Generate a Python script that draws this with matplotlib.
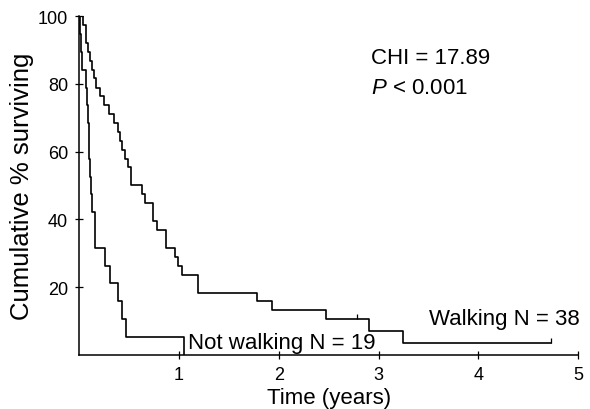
import matplotlib
matplotlib.use('Agg')
import matplotlib.pyplot as plt

plt.rcParams['font.family'] = ['Liberation Sans', 'DejaVu Sans']
plt.rcParams['mathtext.fontset'] = 'custom'
plt.rcParams['mathtext.it'] = 'Liberation Sans:italic'
plt.rcParams['mathtext.rm'] = 'Liberation Sans'

# survival curves (time in years, % surviving)
walk_t = [0, 0.04, 0.065, 0.085, 0.105, 0.13, 0.15, 0.17, 0.21, 0.25, 0.30,
          0.35, 0.39, 0.41, 0.43, 0.46, 0.49, 0.52, 0.634, 0.658, 0.745, 0.78,
          0.87, 0.96, 0.995, 1.027, 1.19, 1.78, 1.93, 2.47, 2.90, 3.24, 4.73]
walk_s = [100, 97.4, 92.1, 89.5, 86.8, 84.2, 81.6, 78.9, 76.3, 73.7, 71.1,
          68.4, 65.8, 63.2, 60.5, 57.9, 55.3, 50.0, 47.4, 44.7, 39.5, 36.8,
          31.6, 28.9, 26.3, 23.7, 18.4, 15.8, 13.2, 10.5, 7.0, 3.5, 3.5]
walk_cens_t = [2.78, 4.73]
walk_cens_s = [10.5, 3.5]

notwalk_t = [0, 0.005, 0.015, 0.025, 0.07, 0.08, 0.09, 0.095, 0.10, 0.11,
             0.12, 0.13, 0.16, 0.26, 0.31, 0.39, 0.43, 0.47, 1.05]
notwalk_s = [100, 94.7, 89.5, 84.2, 78.9, 73.7, 68.4, 63.2, 57.9, 52.6,
             47.4, 42.1, 31.6, 26.3, 21.1, 15.8, 10.5, 5.3, 0]

fig = plt.figure(figsize=(5.9, 4.1), dpi=100)
ax = fig.add_axes([0.134, 0.132, 0.846, 0.8265])

ax.step(walk_t, walk_s, where='post', color='black', lw=1.2)
ax.step(notwalk_t, notwalk_s, where='post', color='black', lw=1.2)
# censoring ticks
ax.vlines(walk_cens_t, walk_cens_s, [s + 1.5 for s in walk_cens_s],
          color='black', lw=0.9)

ax.set_xlim(0, 5)
ax.set_ylim(0, 100)
ax.set_xticks([1, 2, 3, 4, 5])
ax.set_yticks([20, 40, 60, 80, 100])
ax.tick_params(direction='inout', length=6, width=0.9, labelsize=13, pad=5)
for side in ['top', 'right']:
    ax.spines[side].set_visible(False)
for side in ['left', 'bottom']:
    ax.spines[side].set_linewidth(1.1)

ax.set_xlabel('Time (years)', fontsize=16, labelpad=3)
ax.set_ylabel('Cumulative % surviving', fontsize=18.5, labelpad=3)

ax.text(2.92, 87.9, 'CHI = 17.89', fontsize=16, va='center', ha='left')
ax.text(2.92, 79, r'$P$ < 0.001', fontsize=16, va='center', ha='left')
ax.text(5.02, 10.6, 'Walking N = 38', fontsize=16, va='center', ha='right')
ax.text(1.09, 3.8, 'Not walking N = 19', fontsize=16, va='center', ha='left')

fig.savefig('out.png', dpi=100)
